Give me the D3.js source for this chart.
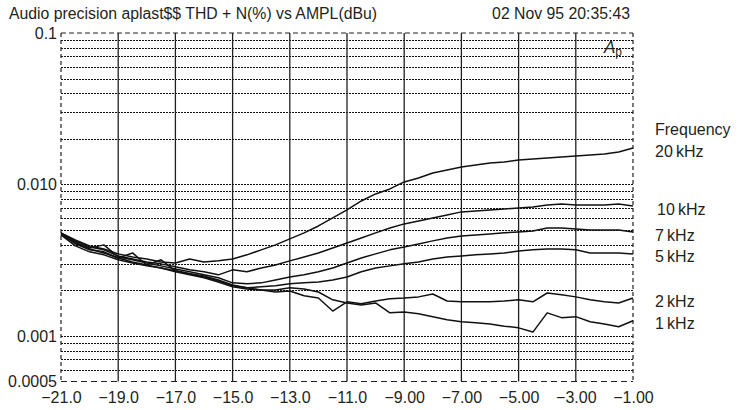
<!DOCTYPE html>
<html>
<head>
<meta charset="utf-8">
<script src="https://cdn.jsdelivr.net/npm/d3@7"></script>
<style>
  html, body { margin: 0; padding: 0; background: #fff; }
  svg text { font-family: "Liberation Sans", Arial, Helvetica, sans-serif; fill: #231f20; }
</style>
</head>
<body>
<div id="container"></div>
<script>
/**
 * DATA
 * */
const ampl = d3.range(41).map(i => -21 + i * 0.5) // dBu, one reading every 0.5 dB

const thd20k = [0.00479, 0.00430, 0.00393, 0.00375, 0.00348, 0.00332, 0.00322, 0.00308, 0.00303, 0.00322,
  0.00308, 0.00313, 0.00322, 0.00343, 0.00370, 0.00399, 0.00437, 0.00479, 0.00532, 0.00601,
  0.00679, 0.00778, 0.00866, 0.00934, 0.01039, 0.01104, 0.01191, 0.01246, 0.01305, 0.01345,
  0.01387, 0.01408, 0.01451, 0.01474, 0.01496, 0.01519, 0.01542, 0.01566, 0.01590, 0.01639, 0.01741]
const thd10k = [0.00471, 0.00424, 0.00387, 0.00370, 0.00337, 0.00322, 0.00308, 0.00299, 0.00286, 0.00273,
  0.00265, 0.00253, 0.00273, 0.00265, 0.00281, 0.00294, 0.00313, 0.00332, 0.00353, 0.00381,
  0.00411, 0.00443, 0.00479, 0.00516, 0.00549, 0.00574, 0.00601, 0.00629, 0.00659, 0.00669,
  0.00679, 0.00689, 0.00700, 0.00711, 0.00733, 0.00744, 0.00733, 0.00733, 0.00733, 0.00744, 0.00721]
const thd7k = [0.00464, 0.00411, 0.00381, 0.00399, 0.00332, 0.00318, 0.00303, 0.00290, 0.00277, 0.00265,
  0.00253, 0.00242, 0.00224, 0.00221, 0.00224, 0.00234, 0.00245, 0.00253, 0.00265, 0.00281,
  0.00303, 0.00327, 0.00348, 0.00370, 0.00387, 0.00405, 0.00424, 0.00443, 0.00457, 0.00464,
  0.00471, 0.00479, 0.00486, 0.00493, 0.00516, 0.00516, 0.00508, 0.00501, 0.00501, 0.00501, 0.00486]
const thd5k = [0.00471, 0.00417, 0.00375, 0.00353, 0.00327, 0.00353, 0.00294, 0.00281, 0.00269, 0.00257,
  0.00249, 0.00234, 0.00217, 0.00208, 0.00211, 0.00214, 0.00221, 0.00224, 0.00227, 0.00234,
  0.00245, 0.00265, 0.00281, 0.00290, 0.00299, 0.00308, 0.00322, 0.00332, 0.00337, 0.00343,
  0.00348, 0.00353, 0.00364, 0.00370, 0.00375, 0.00375, 0.00370, 0.00353, 0.00353, 0.00353, 0.00348]
const thd2k = [0.00479, 0.00405, 0.00370, 0.00359, 0.00327, 0.00308, 0.00294, 0.00318, 0.00269, 0.00257,
  0.00245, 0.00231, 0.00214, 0.00208, 0.00201, 0.00195, 0.00198, 0.00184, 0.00178, 0.00146,
  0.00168, 0.00163, 0.00170, 0.00176, 0.00178, 0.00181, 0.00189, 0.00170, 0.00168, 0.00168,
  0.00168, 0.00170, 0.00173, 0.00168, 0.00192, 0.00187, 0.00181, 0.00173, 0.00168, 0.00165, 0.00178]
const thd1k = [0.00464, 0.00393, 0.00359, 0.00343, 0.00318, 0.00303, 0.00290, 0.00281, 0.00265, 0.00253,
  0.00242, 0.00227, 0.00211, 0.00204, 0.00201, 0.00201, 0.00208, 0.00204, 0.00195, 0.00173,
  0.00165, 0.00160, 0.00165, 0.00142, 0.00144, 0.00140, 0.00134, 0.00128, 0.00124, 0.00122,
  0.00120, 0.00116, 0.00113, 0.00106, 0.00142, 0.00132, 0.00134, 0.00124, 0.00120, 0.00115, 0.00126]

const seriesNames = ['20\u2009kHz', '10\u2009kHz', '7\u2009kHz', '5\u2009kHz', '2\u2009kHz', '1\u2009kHz']
const seriesValues = [thd20k, thd10k, thd7k, thd5k, thd2k, thd1k]

const xTickValues = [-21, -19, -17, -15, -13, -11, -9, -7, -5, -3, -1]
const xTickLabels = ['\u221221.0', '\u221219.0', '\u221217.0', '\u221215.0', '\u221213.0', '\u221211.0',
  '\u22129.00', '\u22127.00', '\u22125.00', '\u22123.00', '\u22121.00']
const yTickValues = [0.1, 0.01, 0.001, 0.0005]
const yTickLabels = ['0.1', '0.010', '0.001', '0.0005']

const title = 'Audio precision aplast$$ THD + N(%) vs AMPL(dBu)'
const stamp = '02 Nov 95 20:35:43'

/**
 * CONSTANTS
 * */
const width = 742,
  height = 410,
  margin = { top: 33, bottom: 28.5, left: 61, right: 109 }
const ink = '#231f20'

const svg = d3.select('#container')
  .append('svg')
  .attr('width', width)
  .attr('height', height)

const x = d3.scaleLinear()
  .domain([-21, -1])
  .range([margin.left, width - margin.right])

const y = d3.scaleLog()
  .domain([0.0005, 0.1])
  .range([height - margin.bottom, margin.top])

// horizontal minor grid, every 1..9 step of each decade
svg.append('g')
  .selectAll('line')
  .data(y.ticks().filter(v => v > 0.00051 && v < 0.099))
  .join('line')
  .attr('x1', x(-21))
  .attr('x2', x(-1))
  .attr('y1', d => Math.round(y(d)) + 0.5)
  .attr('y2', d => Math.round(y(d)) + 0.5)
  .attr('stroke', '#111')
  .attr('stroke-width', 1)
  .attr('stroke-dasharray', '2,1')

// vertical grid, solid
svg.append('g')
  .selectAll('line')
  .data(xTickValues.slice(1, -1))
  .join('line')
  .attr('x1', d => x(d))
  .attr('x2', d => x(d))
  .attr('y1', y(0.1))
  .attr('y2', y(0.0005))
  .attr('stroke', ink)
  .attr('stroke-width', 1.3)

// dashed frame
const frame = svg.append('g')
  .attr('stroke', ink)
  .attr('fill', 'none')
  .attr('stroke-width', 1.2)
frame.append('line')
  .attr('x1', x(-21)).attr('x2', x(-1))
  .attr('y1', y(0.1)).attr('y2', y(0.1))
  .attr('stroke-dasharray', '5,3')
frame.append('line')
  .attr('x1', x(-21)).attr('x2', x(-1))
  .attr('y1', y(0.0005)).attr('y2', y(0.0005))
  .attr('stroke-dasharray', '6,4')
frame.selectAll('line.side')
  .data([-21, -1])
  .join('line')
  .attr('class', 'side')
  .attr('x1', d => x(d)).attr('x2', d => x(d))
  .attr('y1', y(0.1)).attr('y2', y(0.0005))
  .attr('stroke-dasharray', '4,3')

// axes (labels only)
const xAxis = d3.axisBottom(x)
  .tickValues(xTickValues)
  .tickFormat((d, i) => xTickLabels[i])
  .tickSize(0)
  .tickPadding(10)
svg.append('g')
  .attr('transform', `translate(0,${y(0.0005)})`)
  .call(xAxis)
  .call(g => g.select('.domain').remove())
  .selectAll('text')
  .attr('font-size', 16)
  .attr('fill', ink)
  .attr('font-family', '"Liberation Sans", Arial, sans-serif')

const yAxis = d3.axisLeft(y)
  .tickValues(yTickValues)
  .tickFormat((d, i) => yTickLabels[i])
  .tickSize(0)
  .tickPadding(4)
svg.append('g')
  .attr('transform', `translate(${x(-21)},0)`)
  .call(yAxis)
  .call(g => g.select('.domain').remove())
  .selectAll('text')
  .attr('font-size', 16)
  .attr('fill', ink)
  .attr('font-family', '"Liberation Sans", Arial, sans-serif')

// curves
const line = d3.line()
  .x((d, i) => x(ampl[i]))
  .y(d => y(d))

svg.append('g')
  .selectAll('path')
  .data(seriesValues)
  .join('path')
  .attr('d', d => line(d))
  .attr('fill', 'none')
  .attr('stroke', '#111')
  .attr('stroke-width', 1.5)
  .attr('stroke-linejoin', 'round')

// labels at the right end of each curve
const legend = svg.append('g')
  .attr('font-size', 16)
legend.selectAll('text')
  .data(seriesValues)
  .join('text')
  .attr('x', (d, i) => x(-1) + (i === 1 ? 24 : 22))
  .attr('y', d => y(d[d.length - 1]) + 3)
  .attr('dy', '0.35em')
  .text((d, i) => seriesNames[i])
legend.append('text')
  .attr('x', x(-1) + 22)
  .attr('y', y(thd20k[thd20k.length - 1]) - 19)
  .attr('dy', '0.35em')
  .text('Frequency')

// header
svg.append('text')
  .attr('x', 9)
  .attr('y', 19)
  .attr('font-size', 15.8)
  .text(title)
svg.append('text')
  .attr('x', x(-1) - 3)
  .attr('y', 19)
  .attr('text-anchor', 'end')
  .attr('font-size', 15.8)
  .text(stamp)

// Ap mark in the corner
const ap = svg.append('text')
  .attr('x', x(-1) - 29)
  .attr('y', y(0.1) + 20)
ap.append('tspan')
  .attr('font-size', 17)
  .attr('font-style', 'italic')
  .text('A')
ap.append('tspan')
  .attr('font-size', 12)
  .attr('dy', 3)
  .text('p')
</script>
</body>
</html>
